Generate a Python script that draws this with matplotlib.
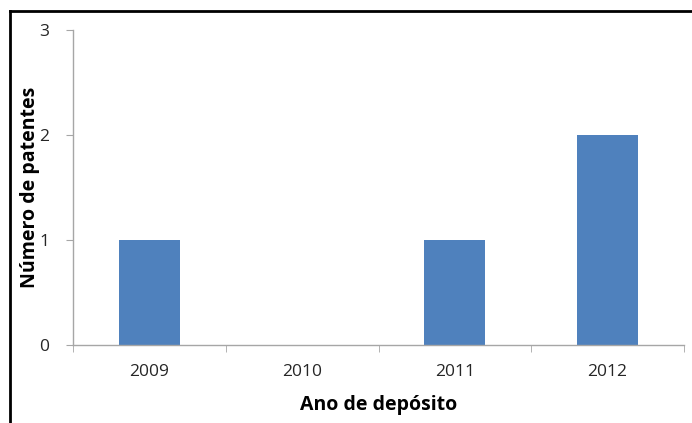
import matplotlib.pyplot as plt
from matplotlib.lines import Line2D

# data
years = ['2009', '2010', '2011', '2012']
patents = [1, 0, 1, 2]

W, H = 692, 423
fig = plt.figure(figsize=(W / 100, H / 100), dpi=100)
plt.rcParams['font.family'] = ['Open Sans', 'DejaVu Sans']

ax = fig.add_axes([73 / W, 1 - 345 / H, (684 - 73) / W, (345 - 30) / H])

x = list(range(len(years)))
ax.bar(x, patents, width=0.4, color='#4F81BD', zorder=2)

ax.set_xlim(-0.5, len(years) - 0.5)
ax.set_ylim(0, 3)
ax.set_yticks([0, 1, 2, 3])
ax.set_xticks(x)
ax.set_xticklabels(years)
ax.set_xticks([i + 0.5 for i in range(-1, len(years))], minor=True)

for s in ['top', 'right']:
    ax.spines[s].set_visible(False)
for s in ['left', 'bottom']:
    ax.spines[s].set_color('#A6A6A6')
    ax.spines[s].set_linewidth(1.0)

ax.tick_params(axis='y', length=5, color='#A6A6A6', labelsize=12.5, labelcolor='#262626', pad=12)
ax.tick_params(axis='x', which='major', length=0, labelsize=12.5, labelcolor='#262626', pad=14)
ax.tick_params(axis='x', which='minor', length=5, color='#A6A6A6')

ax.set_xlabel('Ano de depósito', fontsize=14, fontweight='bold')
ax.set_ylabel('Número de patentes', fontsize=14, fontweight='bold')
ax.xaxis.set_label_coords(0.5, -(405 - 345) / 315, transform=ax.transAxes)
ax.xaxis.label.set_va('center')
ax.yaxis.set_label_coords(-(73 - 30) / 611, 0.5, transform=ax.transAxes)
ax.yaxis.label.set_va('center')

# frame around the figure (only top and left visible)
fig.add_artist(Line2D([9.5 / W, 9.5 / W], [0, 1 - 11 / H], color='black', lw=2))
fig.add_artist(Line2D([9.5 / W, 1], [1 - 11 / H, 1 - 11 / H], color='black', lw=2))

fig.savefig('out.png', dpi=100)
